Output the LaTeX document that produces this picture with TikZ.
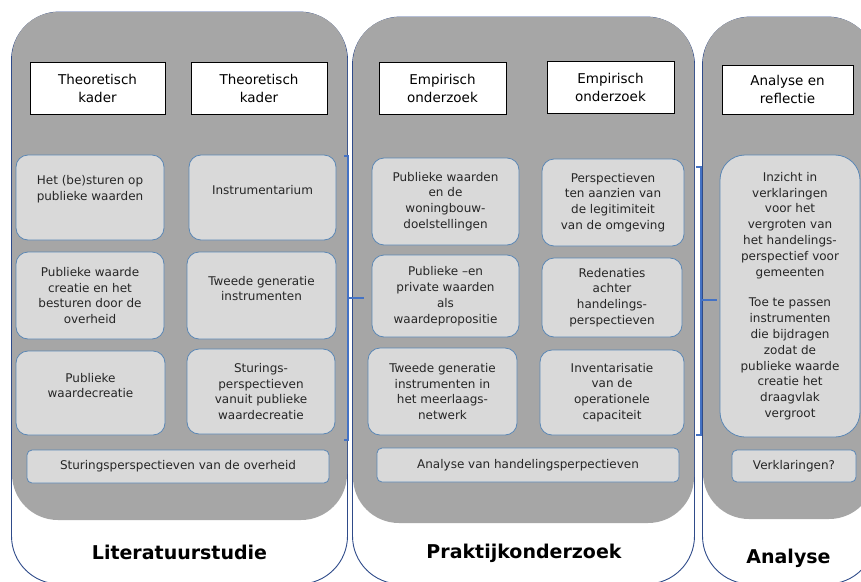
\documentclass[tikz,border=0pt]{standalone}
\usepackage{fontspec}
\setmainfont{DejaVu Sans}
\usepackage{xcolor}
\usetikzlibrary{positioning, calc}

\definecolor{panelgray}{HTML}{A6A6A6}
\definecolor{boxgray}{HTML}{D9D9D9}
\definecolor{boxblue}{HTML}{5B87B5}
\definecolor{rimblue}{HTML}{2F4B8A}
\definecolor{brackblue}{HTML}{4472C4}

\begin{document}
\begin{tikzpicture}[
    x=1pt, y=-1pt,
    rim/.style={draw=rimblue, line width=0.9pt, fill=white, rectangle, rounded corners=48pt, inner sep=0pt},
    panel/.style={fill=panelgray, rectangle, rounded corners=46pt, inner sep=0pt},
    header/.style={draw=black, line width=1pt, fill=white, rectangle, minimum height=52pt, align=center, font=\fontsize{13.5}{18}\selectfont},
    item/.style={draw=boxblue, line width=0.8pt, fill=boxgray, rectangle, rounded corners=12pt, align=center, font=\fontsize{12}{15.8}\selectfont, text=black!85},
    bar/.style={draw=boxblue, line width=0.8pt, fill=boxgray, rectangle, rounded corners=5pt, minimum height=33pt, align=center, font=\fontsize{12}{15}\selectfont, text=black!85},
    lift/.style={text depth=#1},
    title/.style={anchor=base, font=\fontsize{19}{23}\selectfont\bfseries},
    bracket/.style={draw=brackblue, line width=1.3pt}
]
    \useasboundingbox (0,0) rectangle (861,581);
    \clip (0,0) rectangle (861,581);

    % Panels
    \node[rim, minimum width=336pt, minimum height=572pt] (rimLit) at (179.5,298) {};
    \node[panel, minimum width=335pt, minimum height=508pt] (lit) at (179.5,266) {};
    \node[rim, minimum width=342pt, minimum height=567pt] (rimPrk) at (523.5,300.5) {};
    \node[panel, minimum width=341pt, minimum height=506pt] (prk) at (523.5,270) {};
    \node[rim, minimum width=173pt, minimum height=567pt] (rimAna) at (789,300.5) {};
    \node[panel, minimum width=172pt, minimum height=502pt] (ana) at (789,268) {};

    % Headers
    \node[header, minimum width=135pt] (litHead1) at (97.5,88) {Theoretisch\\kader};
    \node[header, minimum width=136pt] (litHead2) at (259,88) {Theoretisch\\kader};
    \node[header, minimum width=127pt] (prkHead1) at (442.5,88) {Empirisch\\onderzoek};
    \node[header, minimum width=127pt] (prkHead2) at (610.5,87.5) {Empirisch\\onderzoek};
    \node[header, minimum width=131pt, minimum height=49pt] (anaHead) at (787.5,89.5) {Analyse en\\reflectie};

    % Literatuurstudie
    \node[item, minimum width=148pt, minimum height=85pt, lift=19pt] (lit1) at (90,197.5) {Het (be)sturen op\\publieke waarden};
    \node[item, minimum width=147pt, minimum height=85pt, lift=16pt] (lit2) at (262.5,197.5) {Instrumentarium};
    \node[item, minimum width=148pt, minimum height=87pt] (lit3) at (90,295.5) {Publieke waarde\\creatie en het\\besturen door de\\overheid};
    \node[item, minimum width=149pt, minimum height=87pt, lift=14pt] (lit4) at (261.5,295.5) {Tweede generatie\\instrumenten};
    \node[item, minimum width=149pt, minimum height=84pt, lift=15pt] (lit5) at (90.5,393) {Publieke\\waardecreatie};
    \node[item, minimum width=148pt, minimum height=85pt] (lit6) at (261,391.5) {Sturings-\\perspectieven\\vanuit publieke\\waardecreatie};
    \node[bar, minimum width=302pt] (litBar) at (178,466.5) {Sturingsperspectieven van de overheid};

    % Praktijkonderzoek
    \node[item, minimum width=147pt, minimum height=87pt] (prk1) at (445.5,201.5) {Publieke waarden\\en de\\woningbouw-\\doelstellingen};
    \node[item, minimum width=142pt, minimum height=87pt] (prk2) at (613,202.5) {Perspectieven\\ten aanzien van\\de legitimiteit\\van de omgeving};
    \node[item, minimum width=147pt, minimum height=82pt] (prk3) at (445.5,296) {Publieke –en\\private waarden\\als\\waardepropositie};
    \node[item, minimum width=140pt, minimum height=79pt] (prk4) at (612,297.5) {Redenaties\\achter\\handelings-\\perspectieven};
    \node[item, minimum width=149pt, minimum height=87pt] (prk5) at (442.5,391.5) {Tweede generatie\\instrumenten in\\het meerlaags-\\netwerk};
    \node[item, minimum width=144pt, minimum height=85pt] (prk6) at (612,392.5) {Inventarisatie\\van de\\operationele\\capaciteit};
    \node[bar, minimum width=302pt, minimum height=34pt] (prkBar) at (528,465) {Analyse van handelingsperpectieven};

    % Analyse
    \node[item, rounded corners=25pt, minimum width=140pt, minimum height=282pt] (ana1) at (790,296) {Inzicht in\\verklaringen\\voor het\\vergroten van\\het handelings-\\perspectief voor\\gemeenten\\[15pt]Toe te passen\\instrumenten\\die bijdragen\\zodat de\\publieke waarde\\creatie het\\draagvlak\\vergroot};
    \node[bar, minimum width=124pt, minimum height=32pt] (anaBar) at (794,466) {Verklaringen?};

    % Titles
    \node[title] (litTitle) at (179.5,559) {Literatuurstudie};
    \node[title] (prkTitle) at (524,558) {Praktijkonderzoek};
    \node[title] (anaTitle) at (788.5,563) {Analyse};

    % Brackets
    \coordinate (b1top) at (348,156);
    \coordinate (b1bot) at (348,440);
    \coordinate (b1tip) at (364,298);
    \draw[bracket] ($(b1top)+(-4,0)$) -- (b1top) -- (b1bot) -- ++(-4,0);
    \draw[bracket] (b1top |- b1tip) -- (b1tip);

    \coordinate (b2top) at (701,167);
    \coordinate (b2bot) at (701,435);
    \coordinate (b2tip) at (717,300);
    \draw[bracket] ($(b2top)+(-5,0)$) -- (b2top) -- (b2bot) -- ++(-5,0);
    \draw[bracket] (b2top |- b2tip) -- (b2tip);

\end{tikzpicture}
\end{document}
